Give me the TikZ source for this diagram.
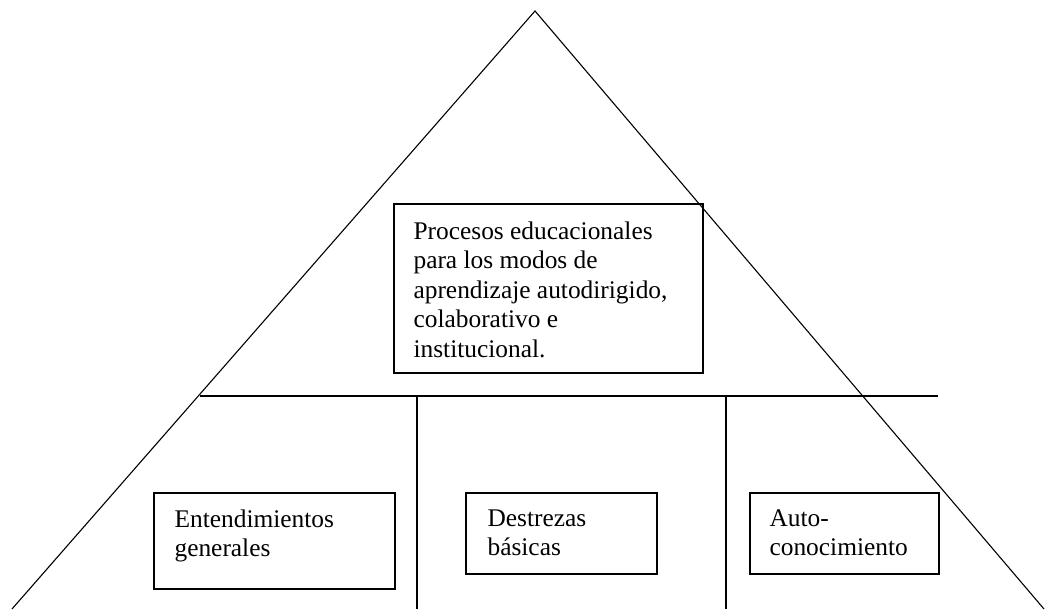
\documentclass[tikz,border=0pt]{standalone}
\usepackage{fontspec}
\setmainfont{Liberation Serif}
\begin{document}
\begin{tikzpicture}[x=0.5pt,y=-0.5pt,line width=0.55pt,
  frame/.style={draw,line width=0.8pt,anchor=north west,inner sep=0pt},
  txt/.style={anchor=north west,align=left,inner sep=0pt,
    font=\fontsize{12.7}{14.8}\selectfont}]
\useasboundingbox (0,0) rectangle (1052,609);
\coordinate (apex) at (535,11);
\coordinate (bl) at (12,609);
\coordinate (br) at (1044,609);
\coordinate (hl) at (200,396);
\coordinate (hr) at (938,396);
\coordinate (v1t) at (417,396);
\coordinate (v1b) at (417,609);
\coordinate (v2t) at (726,396);
\coordinate (v2b) at (726,609);
\draw (bl) -- (apex) -- (br);
\draw[line width=0.7pt] (hl) -- (hr);
\draw (v1t) -- (v1b);
\draw (v2t) -- (v2b);
\node[frame,minimum width=154.5pt,minimum height=84.5pt] (top) at (393,203) {};
\node[txt] (toptext) at ([shift={(20,18)}]top.north west)
  {Procesos educacionales\\para los modos de\\aprendizaje autodirigido,\\colaborativo e\\institucional.};
\node[frame,minimum width=120.5pt,minimum height=48pt] (ent) at (153,492) {};
\node[txt] (enttext) at ([shift={(21,17)}]ent.north west) {Entendimientos\\generales};
\node[frame,minimum width=95.5pt,minimum height=40.5pt] (des) at (465,492) {};
\node[txt] (destext) at ([shift={(22,17)}]des.north west) {Destrezas\\básicas};
\node[frame,minimum width=94.5pt,minimum height=40.5pt] (auto) at (749,492) {};
\node[txt] (autotext) at ([shift={(20,17)}]auto.north west) {Auto-\\conocimiento};
\end{tikzpicture}
\end{document}
